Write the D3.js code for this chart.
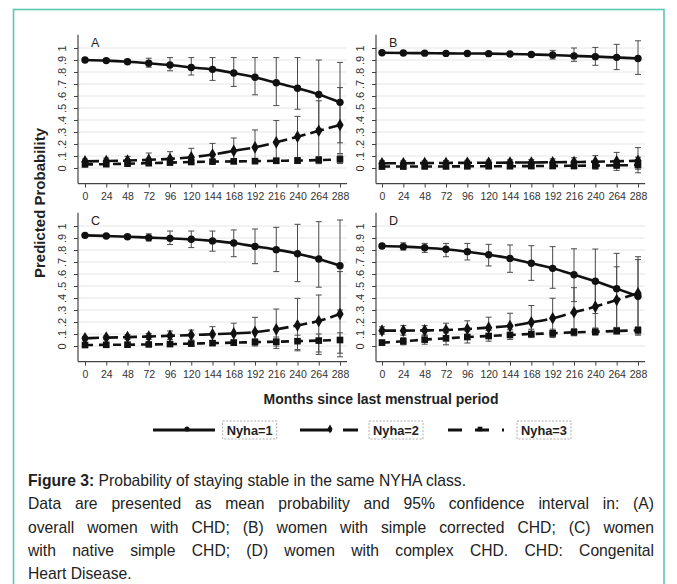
<!DOCTYPE html>
<html><head><meta charset="utf-8">
<script src="https://cdn.jsdelivr.net/npm/d3@7"></script>
<style>body{margin:0;background:#fff}svg{display:block}</style>
</head><body>
<svg id="c" width="677" height="584"></svg>
<script>
// ---------- DATA ----------
const months = [0,24,48,72,96,120,144,168,192,216,240,264,288];
const yTicks = [0,0.1,0.2,0.3,0.4,0.5,0.6,0.7,0.8,0.9,1];
const yTickLabels = ["0",".1",".2",".3",".4",".5",".6",".7",".8",".9","1"];
const seriesNames = ["Nyha=1","Nyha=2","Nyha=3"];
const panelLabels = ["A","B","C","D"];

// Panel A
const A1 = [0.900,0.895,0.886,0.873,0.858,0.838,0.822,0.792,0.756,0.710,0.664,0.612,0.547];
const A1lo = [0.890,0.880,0.870,0.840,0.810,0.775,0.730,0.680,0.610,0.520,0.490,0.330,0.210];
const A1hi = [0.910,0.910,0.905,0.915,0.920,0.920,0.920,0.920,0.920,0.920,0.920,0.900,0.880];
const A2 = [0.055,0.058,0.062,0.068,0.076,0.090,0.112,0.143,0.172,0.214,0.261,0.310,0.358];
const A2lo = [0.040,0.040,0.040,0.040,0.040,0.040,0.040,0.045,0.050,0.050,0.050,0.060,0.120];
const A2hi = [0.075,0.083,0.097,0.125,0.136,0.164,0.205,0.250,0.317,0.395,0.430,0.560,0.670];
const A3 = [0.030,0.032,0.036,0.040,0.045,0.050,0.053,0.055,0.057,0.060,0.062,0.066,0.072];
const A3lo = [0.020,0.022,0.024,0.028,0.033,0.035,0.038,0.037,0.037,0.038,0.037,0.036,0.037];
const A3hi = [0.040,0.042,0.048,0.052,0.057,0.065,0.068,0.073,0.077,0.082,0.087,0.096,0.107];
// Panel B
const B1 = [0.961,0.958,0.957,0.955,0.954,0.953,0.950,0.946,0.942,0.934,0.928,0.922,0.912];
const B1lo = [0.950,0.948,0.947,0.946,0.944,0.942,0.938,0.930,0.908,0.889,0.856,0.820,0.780];
const B1hi = [0.972,0.968,0.967,0.964,0.964,0.964,0.962,0.962,0.980,1.000,1.005,1.030,1.060];
const B2 = [0.040,0.040,0.041,0.042,0.043,0.044,0.045,0.046,0.048,0.050,0.052,0.056,0.060];
const B2lo = [0.020,0.020,0.022,0.022,0.022,0.022,0.022,0.022,0.020,0.015,0.008,0.000,-0.010];
const B2hi = [0.060,0.060,0.060,0.062,0.064,0.066,0.068,0.070,0.076,0.085,0.103,0.130,0.170];
const B3 = [0.012,0.012,0.013,0.013,0.014,0.015,0.015,0.016,0.017,0.019,0.020,0.022,0.025];
const B3lo = [0.000,0.000,0.000,0.000,0.000,0.000,0.000,-0.002,-0.005,-0.008,-0.010,-0.020,-0.040];
const B3hi = [0.025,0.025,0.026,0.027,0.028,0.030,0.030,0.034,0.040,0.046,0.050,0.065,0.090];
// Panel C
const C1 = [0.922,0.917,0.911,0.903,0.897,0.889,0.876,0.858,0.830,0.803,0.769,0.725,0.669];
const C1lo = [0.910,0.905,0.895,0.875,0.845,0.820,0.790,0.744,0.686,0.620,0.536,0.490,0.300];
const C1hi = [0.932,0.930,0.926,0.935,0.958,0.958,0.958,0.967,0.975,0.989,1.014,1.036,1.050];
const C2 = [0.064,0.070,0.074,0.079,0.085,0.091,0.098,0.105,0.116,0.139,0.172,0.208,0.267];
const C2lo = [0.050,0.055,0.055,0.055,0.055,0.050,0.045,0.040,0.030,0.000,-0.030,-0.070,-0.090];
const C2hi = [0.080,0.085,0.093,0.105,0.125,0.133,0.161,0.190,0.239,0.308,0.397,0.425,0.620];
const C3 = [0.008,0.010,0.011,0.013,0.016,0.020,0.024,0.028,0.032,0.036,0.040,0.045,0.050];
const C3lo = [-0.005,-0.003,-0.002,0.000,0.000,0.002,0.005,0.005,0.000,-0.020,-0.040,-0.050,-0.060];
const C3hi = [0.020,0.022,0.024,0.026,0.030,0.036,0.042,0.050,0.060,0.075,0.090,0.100,0.110];
// Panel D
const D1 = [0.833,0.828,0.819,0.806,0.786,0.761,0.730,0.689,0.647,0.594,0.539,0.478,0.415];
const D1lo = [0.815,0.800,0.780,0.744,0.717,0.667,0.614,0.547,0.481,0.370,0.270,0.150,0.090];
const D1hi = [0.850,0.860,0.855,0.855,0.855,0.847,0.842,0.836,0.828,0.810,0.808,0.772,0.744];
const D2 = [0.128,0.128,0.130,0.133,0.142,0.153,0.167,0.197,0.231,0.281,0.328,0.383,0.440];
const D2lo = [0.100,0.090,0.090,0.080,0.080,0.080,0.080,0.080,0.070,0.100,0.120,0.150,0.150];
const D2hi = [0.160,0.170,0.170,0.190,0.210,0.240,0.273,0.337,0.398,0.486,0.550,0.660,0.720];
const D3 = [0.028,0.039,0.053,0.064,0.075,0.083,0.092,0.100,0.106,0.114,0.119,0.125,0.131];
const D3lo = [0.010,0.010,0.015,0.010,0.025,0.040,0.055,0.070,0.080,0.085,0.090,0.100,0.100];
const D3hi = [0.050,0.070,0.090,0.110,0.125,0.130,0.135,0.140,0.140,0.145,0.150,0.155,0.160];

const xTitle = "Months since last menstrual period";
const yTitle = "Predicted Probability";
const captionBold = "Figure 3:";
const captionLines = [
  " Probability of staying stable in the same NYHA class.",
  "Data are presented as mean probability and 95% confidence interval in: (A)",
  "overall women with CHD; (B) women with simple corrected CHD; (C) women",
  "with native simple CHD; (D) women with complex CHD. CHD: Congenital",
  "Heart Disease."
];

// ---------- ASSEMBLY ----------
const panelData = [
  [[A1,A1lo,A1hi],[A2,A2lo,A2hi],[A3,A3lo,A3hi]],
  [[B1,B1lo,B1hi],[B2,B2lo,B2hi],[B3,B3lo,B3hi]],
  [[C1,C1lo,C1hi],[C2,C2lo,C2hi],[C3,C3lo,C3hi]],
  [[D1,D1lo,D1hi],[D2,D2lo,D2hi],[D3,D3lo,D3hi]]
];
const layout = [
  {axisX:78,  x0:85,  x1:340, y0:168, y1:48},
  {axisX:376, x0:382, x1:638, y0:168, y1:48},
  {axisX:78,  x0:85,  x1:340, y0:346, y1:226},
  {axisX:376, x0:382, x1:638, y0:346, y1:226}
];
const FONT = "'Liberation Sans', Arial, sans-serif";
const dashes = [null, "14,5", "8,6"];
const svg = d3.select("#c");

// border
svg.append("rect").attr("x",13.5).attr("y",9.5).attr("width",650.5).attr("height",620)
  .attr("fill","none").attr("stroke","#5cc7b2").attr("stroke-width",1.6);

function marker(g, k, cx, cy, s) {
  if (k===0) g.append("circle").attr("cx",cx).attr("cy",cy).attr("r",3.7*s).attr("fill","#111");
  else if (k===1) g.append("path").attr("d",d3.symbol(d3.symbolDiamond, 46*s*s)()).attr("transform",`translate(${cx},${cy})`).attr("fill","#111");
  else g.append("path").attr("d",d3.symbol(d3.symbolSquare, 44*s*s)()).attr("transform",`translate(${cx},${cy})`).attr("fill","#111");
}

panelData.forEach((series, p) => {
  const L = layout[p];
  const x = d3.scaleLinear().domain([0,288]).range([L.x0, L.x1]);
  const y = d3.scaleLinear().domain([0,1]).range([L.y0, L.y1]);
  const g = svg.append("g");
  const xr = x(296), yb = y(-0.13), yt = y(1.11);
  // grid
  g.selectAll(".grid").data(yTicks).enter().append("line")
    .attr("x1",L.axisX).attr("x2",xr).attr("y1",d=>y(d)).attr("y2",d=>y(d))
    .attr("stroke","#e6e6e6").attr("stroke-width",1);
  // y axis
  const ya = g.append("g").attr("transform",`translate(${L.axisX},0)`)
    .call(d3.axisLeft(y).tickValues(yTicks).tickSize(4).tickFormat((d,i)=>yTickLabels[i]));
  ya.select(".domain").remove();
  ya.selectAll(".tick line").attr("stroke","#444");
  ya.selectAll(".tick text").attr("x",null).attr("dy",null)
    .attr("transform","translate(-16,0) rotate(-90)").attr("text-anchor","middle")
    .attr("dominant-baseline","central")
    .attr("font-family",FONT).attr("font-size",11).attr("fill","#333");
  g.append("line").attr("x1",L.axisX).attr("x2",L.axisX).attr("y1",yt).attr("y2",yb)
    .attr("stroke","#444").attr("stroke-width",1.2);
  // x axis
  const xa = g.append("g").attr("transform",`translate(0,${yb})`)
    .call(d3.axisBottom(x).tickValues(months).tickSize(4));
  xa.select(".domain").remove();
  xa.selectAll(".tick line").attr("stroke","#444");
  xa.selectAll(".tick text").attr("y",9).attr("font-family",FONT).attr("font-size",10.5).attr("fill","#333");
  g.append("line").attr("x1",L.axisX).attr("x2",xr).attr("y1",yb).attr("y2",yb)
    .attr("stroke","#444").attr("stroke-width",1.2);
  // panel letter
  g.append("text").attr("x",L.axisX+13).attr("y",y(1.11)+12).text(panelLabels[p])
    .attr("font-family",FONT).attr("font-size",12.5).attr("fill","#222");
  // error bars
  series.forEach(([m,lo,hi]) => {
    months.forEach((t,i) => {
      const cx = x(t);
      g.append("line").attr("x1",cx).attr("x2",cx).attr("y1",y(lo[i])).attr("y2",y(hi[i]))
        .attr("stroke","#4a4a4a").attr("stroke-width",1);
      [lo[i],hi[i]].forEach(v => g.append("line").attr("x1",cx-3).attr("x2",cx+3)
        .attr("y1",y(v)).attr("y2",y(v)).attr("stroke","#4a4a4a").attr("stroke-width",1));
    });
  });
  // lines
  series.forEach(([m],k) => {
    const line = d3.line().x((d,i)=>x(months[i])).y(d=>y(d)).curve(d3.curveMonotoneX);
    const path = g.append("path").datum(m).attr("d",line).attr("fill","none")
      .attr("stroke","#111").attr("stroke-width",2.6);
    if (dashes[k]) path.attr("stroke-dasharray",dashes[k]);
  });
  series.forEach(([m],k) => {
    months.forEach((t,i) => marker(g, k, x(t), y(m[i]), 1));
  });
});

// axis titles
svg.append("text").attr("transform","translate(45,203) rotate(-90)").attr("text-anchor","middle")
  .attr("font-family",FONT).attr("font-weight","bold").attr("font-size",15).attr("fill","#222").text(yTitle);
svg.append("text").attr("x",381).attr("y",404).attr("text-anchor","middle")
  .attr("font-family",FONT).attr("font-weight","bold").attr("font-size",14).attr("fill","#222").text(xTitle);

// legend
const legItems = [
  {x1:153, x2:215, mx:187, box:222.7},
  {x1:300, x2:358, mx:330, box:369},
  {x1:448, x2:504, mx:480, box:517}
];
const legDash = [null, "32,11", "14,13"];
seriesNames.forEach((name,k) => {
  const it = legItems[k];
  const l = svg.append("line").attr("x1",it.x1).attr("x2",it.x2).attr("y1",430).attr("y2",430)
    .attr("stroke","#111").attr("stroke-width",2.8);
  if (legDash[k]) l.attr("stroke-dasharray",legDash[k]);
  marker(svg, k, it.mx, 429, 0.7);
  svg.append("rect").attr("x",it.box).attr("y",421).attr("width",54).attr("height",18)
    .attr("fill","none").attr("stroke","#999").attr("stroke-width",0.8).attr("stroke-dasharray","2,1.5");
  svg.append("text").attr("x",it.box+27).attr("y",434.5).attr("text-anchor","middle")
    .attr("font-family",FONT).attr("font-weight","bold").attr("font-size",13.5).attr("fill","#222")
    .attr("textLength",46).attr("lengthAdjust","spacingAndGlyphs").text(name);
});

// caption
const capX = 28, capW = 626, lineH = 23.3, base0 = 486, sx = 0.98;
const capG = svg.append("g").attr("transform",`translate(${capX},0) scale(${sx},1)`);
const wLocal = capW / sx;
const t0 = capG.append("text").attr("x",0).attr("y",base0).attr("font-family",FONT)
  .attr("font-size",16).attr("fill","#222");
t0.append("tspan").attr("font-weight","bold").text(captionBold);
t0.append("tspan").text(captionLines[0]);
captionLines.slice(1).forEach((ln,j) => {
  const yy = base0 + lineH*(j+1);
  const justify = j < captionLines.length-2;
  const words = ln.split(" ");
  const nodes = words.map(w => capG.append("text").attr("y",yy).attr("font-family",FONT)
    .attr("font-size",16).attr("fill","#222").text(w));
  const widths = nodes.map(n => n.node().getComputedTextLength());
  const sp = justify ? (wLocal - d3.sum(widths))/(words.length-1) : 4.4;
  let cx = 0;
  nodes.forEach((n,i) => { n.attr("x",cx); cx += widths[i] + sp; });
});
</script>
</body></html>
